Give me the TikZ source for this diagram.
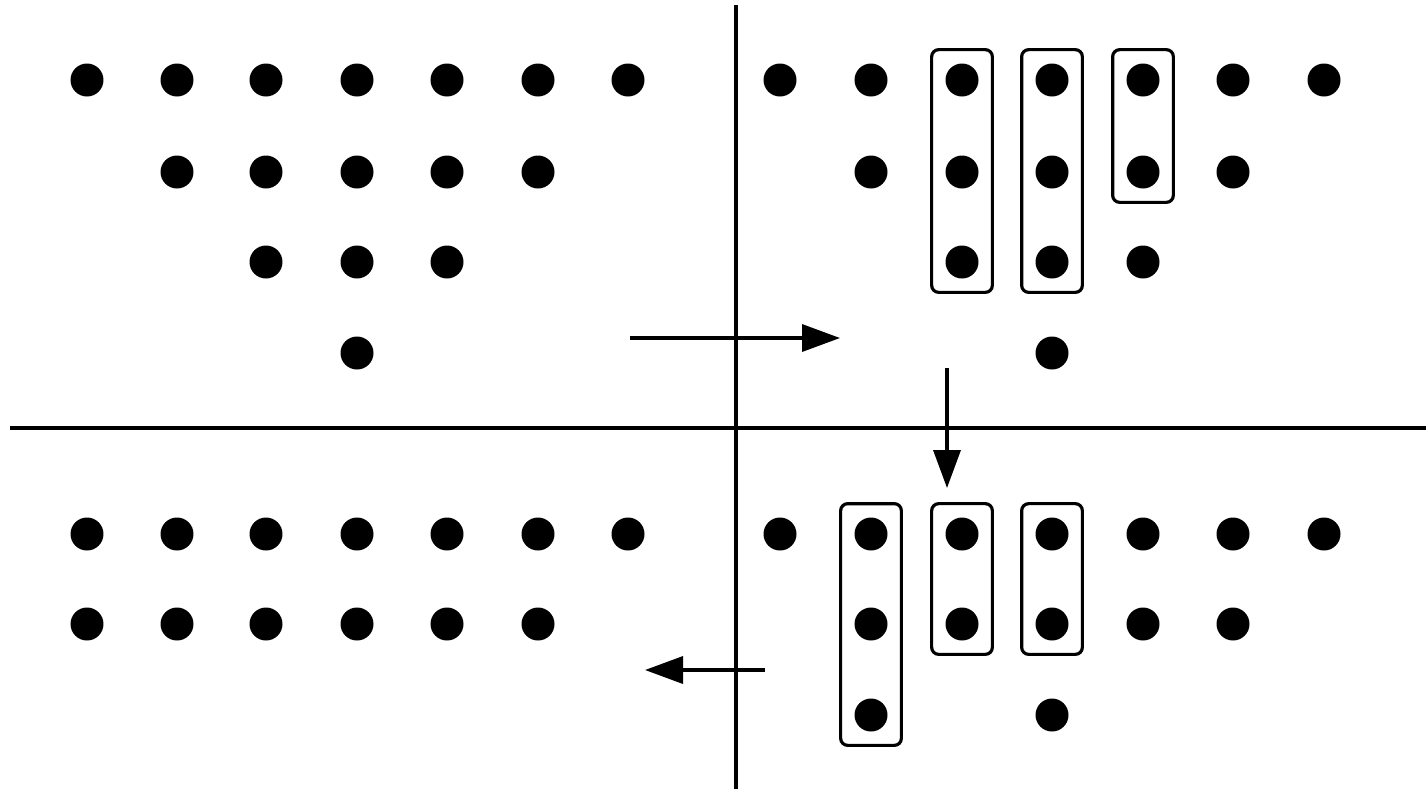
\documentclass[tikz,border=0pt]{standalone}
\usetikzlibrary{arrows.meta,fit}
\begin{document}
\begin{tikzpicture}[x=0.02cm,y=-0.02cm,
  dot/.style={circle,fill=black,inner sep=0pt,minimum size=0.66cm},
  group/.style={draw,line width=1.8pt,rounded corners=0.14cm,inner sep=0.27cm},
  axis/.style={line width=2pt},
  move/.style={line width=2pt,-{Triangle[length=0.76cm,width=0.54cm]}}]
\useasboundingbox (0,0) rectangle (1426,789);
% axes dividing the four panels
\coordinate (vtop) at (736,5);
\coordinate (vbot) at (736,789);
\coordinate (hl) at (10,428);
\coordinate (hr) at (1426,428);
\draw[axis] (vtop) -- (vbot);
\draw[axis] (hl) -- (hr);
% top-left panel
\foreach \x [count=\i] in {87,177,266,357,447,538,628} \node[dot] (tla\i) at (\x,80) {};
\foreach \x [count=\i] in {177,266,357,447,538} \node[dot] (tlb\i) at (\x,172) {};
\foreach \x [count=\i] in {266,357,447} \node[dot] (tlc\i) at (\x,262) {};
\node[dot] (tld1) at (357,353) {};
% top-right panel
\foreach \x [count=\i] in {780,871,962,1052,1143,1233,1324} \node[dot] (tra\i) at (\x,80) {};
\foreach \x [count=\i] in {871,962,1052,1143,1233} \node[dot] (trb\i) at (\x,172) {};
\foreach \x [count=\i] in {962,1052,1143} \node[dot] (trc\i) at (\x,262) {};
\node[dot] (trd1) at (1052,353) {};
\node[group,fit=(tra3)(trc1)] (trg1) {};
\node[group,fit=(tra4)(trc2)] (trg2) {};
\node[group,fit=(tra5)(trb4)] (trg3) {};
% bottom-left panel
\foreach \x [count=\i] in {87,177,266,357,447,538,628} \node[dot] (bla\i) at (\x,534) {};
\foreach \x [count=\i] in {87,177,266,357,447,538} \node[dot] (blb\i) at (\x,624) {};
% bottom-right panel
\foreach \x [count=\i] in {780,871,962,1052,1143,1233,1324} \node[dot] (bra\i) at (\x,534) {};
\foreach \x [count=\i] in {871,962,1052,1143,1233} \node[dot] (brb\i) at (\x,624) {};
\node[dot] (brc1) at (871,715) {};
\node[dot] (brc2) at (1052,715) {};
\node[group,fit=(bra2)(brc1)] (brg1) {};
\node[group,fit=(bra3)(brb2)] (brg2) {};
\node[group,fit=(bra4)(brb3)] (brg3) {};
% arrows between panels
\coordinate (r1) at (630,338);
\coordinate (r2) at (840,338);
\coordinate (d1) at (947,368);
\coordinate (d2) at (947,488);
\coordinate (l1) at (765,670);
\coordinate (l2) at (645,670);
\draw[move] (r1) -- (r2);
\draw[move] (d1) -- (d2);
\draw[move] (l1) -- (l2);
\end{tikzpicture}
\end{document}
